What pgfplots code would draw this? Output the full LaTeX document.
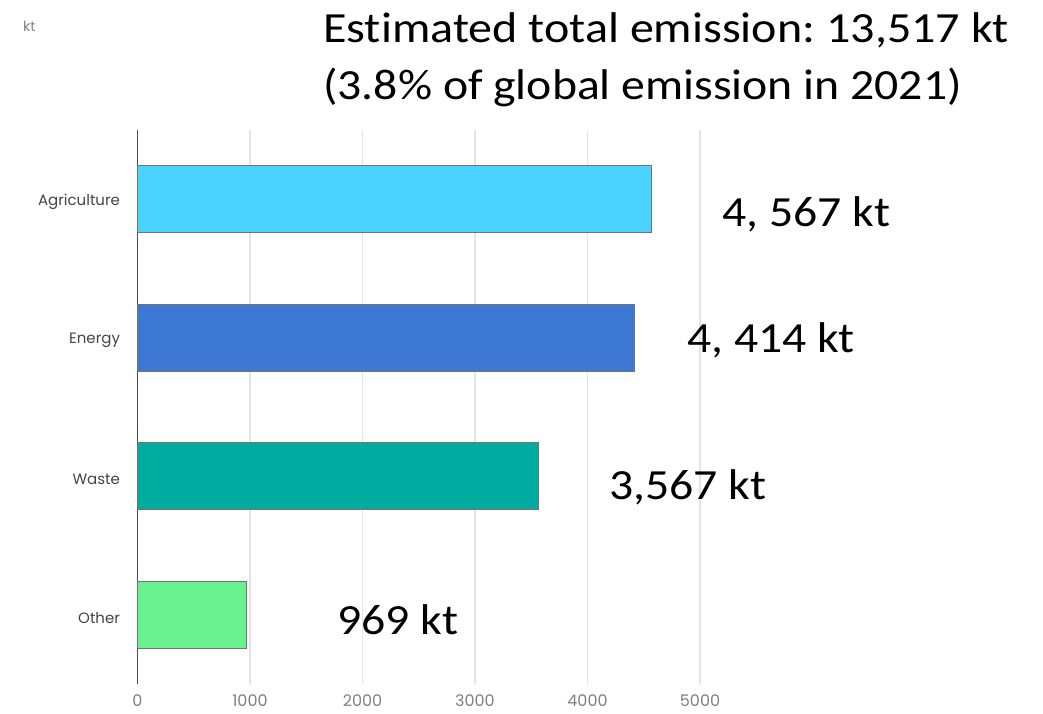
\documentclass[border=0pt]{standalone}
\usepackage{fontspec}
\usepackage{graphicx}
\usepackage{pgfplots}
\pgfplotsset{compat=1.18}
\newfontfamily\carlito[Ligatures={NoCommon}]{Carlito}
\newfontfamily\poppins{Poppins}
\setmainfont{Poppins}

\definecolor{agri}{HTML}{4AD3FF}
\definecolor{energy}{HTML}{3D78D4}
\definecolor{waste}{HTML}{00AB9F}
\definecolor{other}{HTML}{69F18F}
\definecolor{gridgray}{HTML}{E4E4E4}
\definecolor{ticknum}{HTML}{808080}
\definecolor{catlabel}{HTML}{444444}

% wide Carlito text used for the headline and the value labels
\newcommand{\bigtext}[2][1.11]{\scalebox{#1}[1]{\carlito\fontsize{43}{50}\selectfont #2}}

\begin{document}
\begin{tikzpicture}[x=1pt,y=1pt]
\useasboundingbox (0,0) rectangle (1043,713);

% unit label, top left
\node[anchor=base west, font=\poppins\fontsize{14}{16}\selectfont, text=ticknum, inner sep=0]
  at (23,681) {kt};

% headline, two lines
\node[anchor=base west, inner sep=0] at (323,670) {\bigtext[1.118]{\frenchspacing Estimated total emission: 13,517 kt}};
\node[anchor=base west, inner sep=0] at (323,613) {\bigtext[1.11]{(3.8\% of global emission in 2021)}};

\begin{axis}[
  at={(137.5pt,29pt)}, anchor=south west,
  scale only axis, width=562.5pt, height=554pt,
  xmin=0, xmax=5000, ymin=-0.5, ymax=3.5,
  xbar, bar width=0.485, bar shift=0pt,
  axis lines*=left,
  x axis line style={draw=none},
  y axis line style={draw=black!70, line width=1.6pt},
  xmajorgrids, grid style={gridgray, line width=1.2pt},
  xtick={0,1000,2000,3000,4000,5000},
  ytick={0,1,2,3},
  yticklabels={Other,Waste,Energy,Agriculture},
  major tick length=0pt,
  /pgf/number format/assume math mode=true,
  /pgf/number format/1000 sep={},
  xticklabel style={font=\poppins\fontsize{16}{18}\selectfont, text=ticknum, yshift=-10pt, inner sep=1pt},
  yticklabel style={font=\poppins\fontsize{15}{18}\selectfont, text=catlabel, xshift=-14pt, yshift=-3pt},
  clip=false,
  every axis plot/.append style={draw=black!55, line width=1pt},
]
\addplot[fill=agri]   coordinates {(4567,3)};
\addplot[fill=energy] coordinates {(4414,2)};
\addplot[fill=waste]  coordinates {(3567,1)};
\addplot[fill=other]  coordinates {(969,0)};

% value annotations
\begin{scope}[every node/.style={anchor=base west, inner sep=0}]
\node at (axis cs:5196,2.80) {\bigtext{4, 567 kt}};
\node at (axis cs:4884,1.89) {\bigtext{4, 414 kt}};
\node at (axis cs:4191,0.829) {\bigtext{3,567 kt}};
\node at (axis cs:1773,-0.146) {\bigtext{969 kt}};
\end{scope}
\end{axis}
\end{tikzpicture}
\end{document}
